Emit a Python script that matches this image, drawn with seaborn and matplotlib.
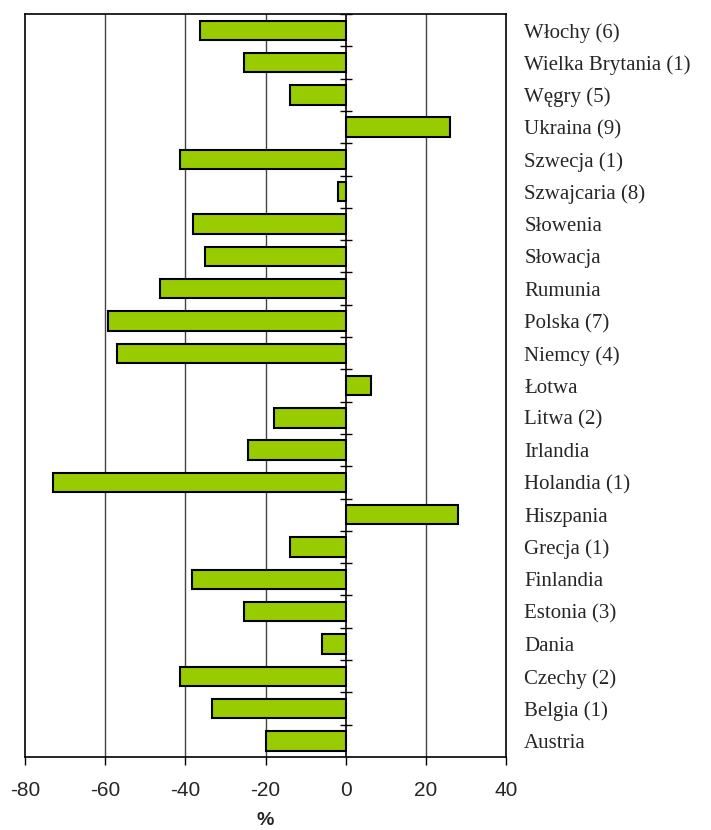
import numpy as np
import pandas as pd
import matplotlib
matplotlib.use("Agg")
import matplotlib.pyplot as plt
import seaborn as sns

# ── DATA ──────────────────────────────────────────────────────────────────────
countries = ["Włochy (6)", "Wielka Brytania (1)", "Węgry (5)", "Ukraina (9)",
             "Szwecja (1)", "Szwajcaria (8)", "Słowenia", "Słowacja", "Rumunia",
             "Polska (7)", "Niemcy (4)", "Łotwa", "Litwa (2)", "Irlandia",
             "Holandia (1)", "Hiszpania", "Grecja (1)", "Finlandia", "Estonia (3)",
             "Dania", "Czechy (2)", "Belgia (1)", "Austria"]
change = [-36.4, -25.3, -13.9, 26.0, -41.3, -2.0, -38.2, -35.2, -46.4,
          -59.3, -57.1, 6.2, -18.0, -24.4, -73.0, 28.0, -14.0, -38.4, -25.3,
          -6.0, -41.3, -33.3, -19.9]
xticks = [-80, -60, -40, -20, 0, 20, 40]
# ─────────────────────────────────────────────────────────────────────────────

df = pd.DataFrame({"country": countries, "change": change})

sns.set_theme(style="white")
plt.rcParams["font.family"] = ["Liberation Sans", "DejaVu Sans"]

fig = plt.figure(figsize=(7.11, 8.30), dpi=100)
ax = fig.add_axes([0.035, 0.088, 0.677, 0.895])

for xv in xticks[1:-1]:
    if xv != 0:
        ax.axvline(xv, color="#444444", lw=1.0, zorder=0)

sns.barplot(data=df, x="change", y="country", orient="h", color="#99CC00",
            edgecolor="black", linewidth=1.5, width=0.6, saturation=1, ax=ax, zorder=2)

n = len(countries)
ax.axvline(0, color="black", lw=1.2, zorder=3)
ax.hlines(np.arange(-0.5, n), -1.5, 1.5, color="black", lw=1.0, zorder=3)

ax.set_xlim(-80, 40)
ax.set_ylim(n - 0.5, -0.5)
ax.set_xticks(xticks)
ax.set_xticklabels([str(v) for v in xticks])
ax.tick_params(axis="x", direction="out", length=6, width=1, color="black",
               pad=11, bottom=True, labelsize=15)

ax.yaxis.tick_right()
ax.tick_params(axis="y", length=0, pad=13)
for lab in ax.get_yticklabels():
    lab.set_fontfamily(["Liberation Serif", "DejaVu Serif"])
    lab.set_fontsize(15)

ax.set_ylabel("")
ax.set_xlabel("%", fontsize=14, fontweight="bold", labelpad=9)

for s in ax.spines.values():
    s.set_visible(True)
    s.set_color("black")
    s.set_linewidth(1.2)

fig.savefig("out.png", dpi=100, facecolor="white")
